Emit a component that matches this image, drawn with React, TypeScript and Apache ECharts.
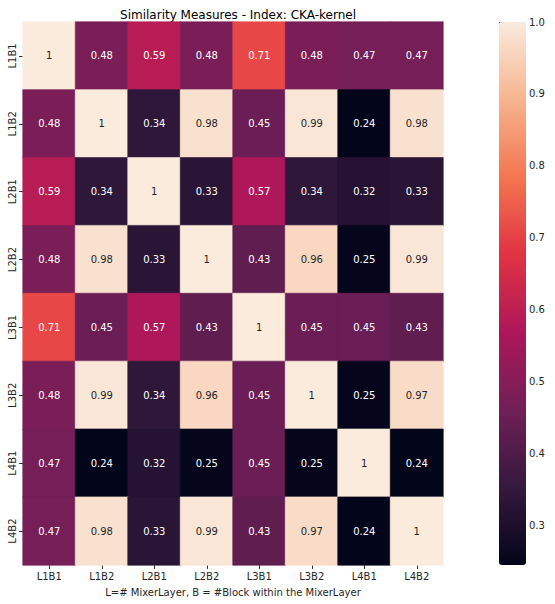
import React, { useEffect, useRef } from "react";
import * as echarts from "echarts";

const labels = ["L1B1", "L1B2", "L2B1", "L2B2", "L3B1", "L3B2", "L4B1", "L4B2"];
const row0 = [1, 0.48, 0.59, 0.48, 0.71, 0.48, 0.47, 0.47];
const row1 = [0.48, 1, 0.34, 0.98, 0.45, 0.99, 0.24, 0.98];
const row2 = [0.59, 0.34, 1, 0.33, 0.57, 0.34, 0.32, 0.33];
const row3 = [0.48, 0.98, 0.33, 1, 0.43, 0.96, 0.25, 0.99];
const row4 = [0.71, 0.45, 0.57, 0.43, 1, 0.45, 0.45, 0.43];
const row5 = [0.48, 0.99, 0.34, 0.96, 0.45, 1, 0.25, 0.97];
const row6 = [0.47, 0.24, 0.32, 0.25, 0.45, 0.25, 1, 0.24];
const row7 = [0.47, 0.98, 0.33, 0.99, 0.43, 0.97, 0.24, 1];
const matrix = [row0, row1, row2, row3, row4, row5, row6, row7];
const colorbarTicks = [0.3, 0.4, 0.5, 0.6, 0.7, 0.8, 0.9, 1.0];
const rocket = ["#03051A", "#35193E", "#701F57", "#AD1759", "#E13342", "#F37651", "#F6B48F", "#FAEBDD"];
const vMin = 0.245;
const vMax = 1;

export default function App() {
  const ref = useRef<HTMLDivElement>(null);
  useEffect(() => {
    if (!ref.current) return;
    const chart = echarts.init(ref.current, null, { renderer: "svg" });
    const data: any[] = [];
    matrix.forEach((row, r) => {
      row.forEach((v, c) => {
        const t = Math.min(1, Math.max(0, (v - vMin) / (vMax - vMin)));
        data.push({
          value: [c, r, v],
          label: { color: v > 0.8 ? "#262626" : "#ffffff" },
          itemStyle: { borderWidth: 0.6, borderColor: echarts.color.lerp(t, rocket) },
        });
      });
    });
    const font = "DejaVu Sans";
    chart.setOption({
      animation: false,
      backgroundColor: "#ffffff",
      textStyle: { fontFamily: font },
      title: {
        text: "Similarity Measures - Index: CKA-kernel",
        left: 233,
        textAlign: "center",
        top: 4,
        textStyle: { fontFamily: font, fontSize: 12, fontWeight: "normal", color: "#000" },
      },
      grid: [
        { left: 23, top: 22, width: 420, height: 543, outerBoundsMode: "none" },
        { left: 499, top: 22, width: 27, height: 543, outerBoundsMode: "none" },
      ],
      xAxis: [
        {
          type: "category",
          data: labels,
          gridIndex: 0,
          position: "bottom",
          axisLine: { show: false },
          axisTick: { show: true, alignWithLabel: true, length: 4, lineStyle: { color: "#333" } },
          axisLabel: { fontFamily: font, fontSize: 10, color: "#262626", margin: 6 },
          splitArea: { show: false },
          name: "L=# MixerLayer, B = #Block within the MixerLayer",
          nameLocation: "middle",
          nameGap: 22,
          nameTextStyle: { fontFamily: font, fontSize: 10, color: "#262626" },
        },
        { type: "value", gridIndex: 1, show: false, min: 0, max: 1 },
      ],
      yAxis: [
        {
          type: "category",
          data: labels,
          gridIndex: 0,
          inverse: true,
          axisLine: { show: false },
          axisTick: { show: true, alignWithLabel: true, length: 4, lineStyle: { color: "#333" } },
          axisLabel: { fontFamily: font, fontSize: 10, color: "#262626", rotate: 90, margin: 6 },
          splitArea: { show: false },
        },
        {
          type: "value",
          gridIndex: 1,
          position: "right",
          min: vMin,
          max: vMax,
          axisLine: { show: false },
          splitLine: { show: false },
          axisTick: { show: true, length: 4, customValues: colorbarTicks, lineStyle: { color: "#333" } },
          axisLabel: {
            fontFamily: font,
            fontSize: 10,
            color: "#262626",
            margin: 3,
            customValues: colorbarTicks,
            formatter: (v: number) => v.toFixed(1),
          },
        },
      ],
      visualMap: {
        type: "continuous",
        min: vMin,
        max: vMax,
        calculable: false,
        left: 499,
        top: 22,
        itemWidth: 27,
        itemHeight: 543,
        padding: 0,
        text: null,
        seriesIndex: 0,
        inRange: { color: rocket },
      },
      series: [
        {
          type: "heatmap",
          xAxisIndex: 0,
          yAxisIndex: 0,
          data,
          label: {
            show: true,
            fontFamily: font,
            fontSize: 10,
            formatter: (p: any) => String(p.value[2]),
          },
          emphasis: { disabled: true },
        },
      ],
    });
    return () => chart.dispose();
  }, []);
  return (
    <div
      ref={ref}
      style={{ width: 555, height: 604, position: "fixed", left: 0, top: 0 }}
    />
  );
}
